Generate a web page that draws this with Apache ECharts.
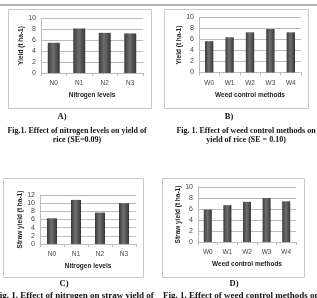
<!DOCTYPE html>
<html>
<head>
<meta charset="utf-8">
<script src="https://cdn.jsdelivr.net/npm/echarts@6/dist/echarts.min.js"></script>
<style>
  html, body { margin: 0; padding: 0; background: #fff; }
  #main { width: 317px; height: 298px; }
</style>
</head>
<body>
<div id="main"></div>
<script>
// chart data
var nitrogenLevels = ['N0', 'N1', 'N2', 'N3'];
var weedMethods = ['W0', 'W1', 'W2', 'W3', 'W4'];
var grainNitrogen = [5.5, 8.1, 7.3, 7.2];
var grainWeed = [5.7, 6.4, 7.3, 7.9, 7.3];
var strawNitrogen = [6.3, 10.8, 7.7, 10.0];
var strawWeed = [5.9, 6.7, 7.3, 8.0, 7.4];

var dom = document.getElementById('main');
var myChart = echarts.init(dom, null, { renderer: 'canvas' });

var barColor = new echarts.graphic.LinearGradient(0, 0, 1, 0, [
  { offset: 0, color: '#3c3c3c' },
  { offset: 0.45, color: '#6e6e6e' },
  { offset: 1, color: '#383838' }
]);

var serif = '"Liberation Serif", "DejaVu Serif", serif';
var sans = '"Liberation Sans", Arial, sans-serif';

function yAxis(idx, max, interval, name) {
  return {
    type: 'value', gridIndex: idx, min: 0, max: max, interval: interval,
    name: name, nameLocation: 'middle', nameRotate: 90, nameGap: 16,
    nameTextStyle: { fontFamily: sans, fontSize: 6.5, fontWeight: 'bold', color: '#222' },
    axisLine: { show: true, lineStyle: { color: '#bbb' } },
    axisTick: { show: false },
    axisLabel: { fontFamily: sans, fontSize: 7, color: '#444', margin: 5 },
    splitLine: { lineStyle: { color: '#bbb' } }
  };
}

function xAxis(idx, cats, name) {
  return {
    type: 'category', gridIndex: idx, data: cats,
    name: name, nameLocation: 'middle', nameGap: 19,
    nameTextStyle: { fontFamily: sans, fontSize: 6.5, fontWeight: 'bold', color: '#222' },
    axisLine: { lineStyle: { color: '#bbb' } },
    axisTick: { show: true, length: 3, lineStyle: { color: '#bbb' } },
    axisLabel: { fontFamily: sans, fontSize: 6.5, color: '#444', margin: 7 }
  };
}

function bars(idx, data, width) {
  return {
    type: 'bar', xAxisIndex: idx, yAxisIndex: idx, data: data,
    barWidth: width, itemStyle: { color: barColor }, silent: true
  };
}

function box(x1, y1, x2, y2) {
  return {
    type: 'rect', shape: { x: x1 + 0.5, y: y1 + 0.5, width: x2 - x1, height: y2 - y1 },
    style: { fill: 'none', stroke: '#c8c8c8', lineWidth: 1 }
  };
}

function label(x, y, text, size, align) {
  return {
    type: 'text', x: x, y: y,
    style: {
      text: text, fill: '#111', font: 'bold ' + size + 'px ' + serif,
      textAlign: align || 'center', textVerticalAlign: 'middle'
    }
  };
}

option = {
  animation: false,
  grid: [
    { left: 41, top: 18, width: 102, height: 55 },
    { left: 199, top: 17.5, width: 102, height: 55 },
    { left: 40, top: 195, width: 96, height: 49 },
    { left: 198, top: 187, width: 98, height: 55 }
  ],
  xAxis: [
    xAxis(0, nitrogenLevels, 'Nitrogen levels'),
    xAxis(1, weedMethods, 'Weed control methods'),
    xAxis(2, nitrogenLevels, 'Nitrogen levels'),
    xAxis(3, weedMethods, 'Weed control methods')
  ],
  yAxis: [
    yAxis(0, 10, 2, 'Yield (t ha-1)'),
    yAxis(1, 10, 2, 'Yield (t ha-1)'),
    yAxis(2, 12, 2, 'Straw yield (t ha-1)'),
    yAxis(3, 10, 2, 'Straw yield (t ha-1)')
  ],
  series: [
    bars(0, grainNitrogen, '47%'),
    bars(1, grainWeed, '41%'),
    bars(2, strawNitrogen, '42%'),
    bars(3, strawWeed, '41%')
  ],
  graphic: [
    { type: 'rect', shape: { x: 0, y: 4, width: 317, height: 2 }, style: { fill: '#b4b4b4' } },
    box(8, 9, 151, 108),
    box(164, 9, 308, 108),
    box(3, 178, 143, 277),
    box(162, 178, 304, 277),
    label(62, 117, 'A)', 8.5),
    label(229, 117, 'B)', 8.5),
    label(64, 284, 'C)', 8.5),
    label(234, 284, 'D)', 8.5),
    label(77, 131, 'Fig.1. Effect of nitrogen levels on yield of', 8),
    label(77, 140, 'rice (SE=0.09)', 8),
    label(246, 131, 'Fig. 1. Effect of weed control methods on', 8),
    label(246, 140, 'yield of rice (SE = 0.10)', 8),
    label(74, 296, 'Fig. 1. Effect of nitrogen on straw yield of', 9),
    label(163, 296, 'Fig. 1. Effect of weed control methods on', 9, 'left')
  ]
};

myChart.setOption(option);
window.addEventListener('resize', myChart.resize);
</script>
</body>
</html>
